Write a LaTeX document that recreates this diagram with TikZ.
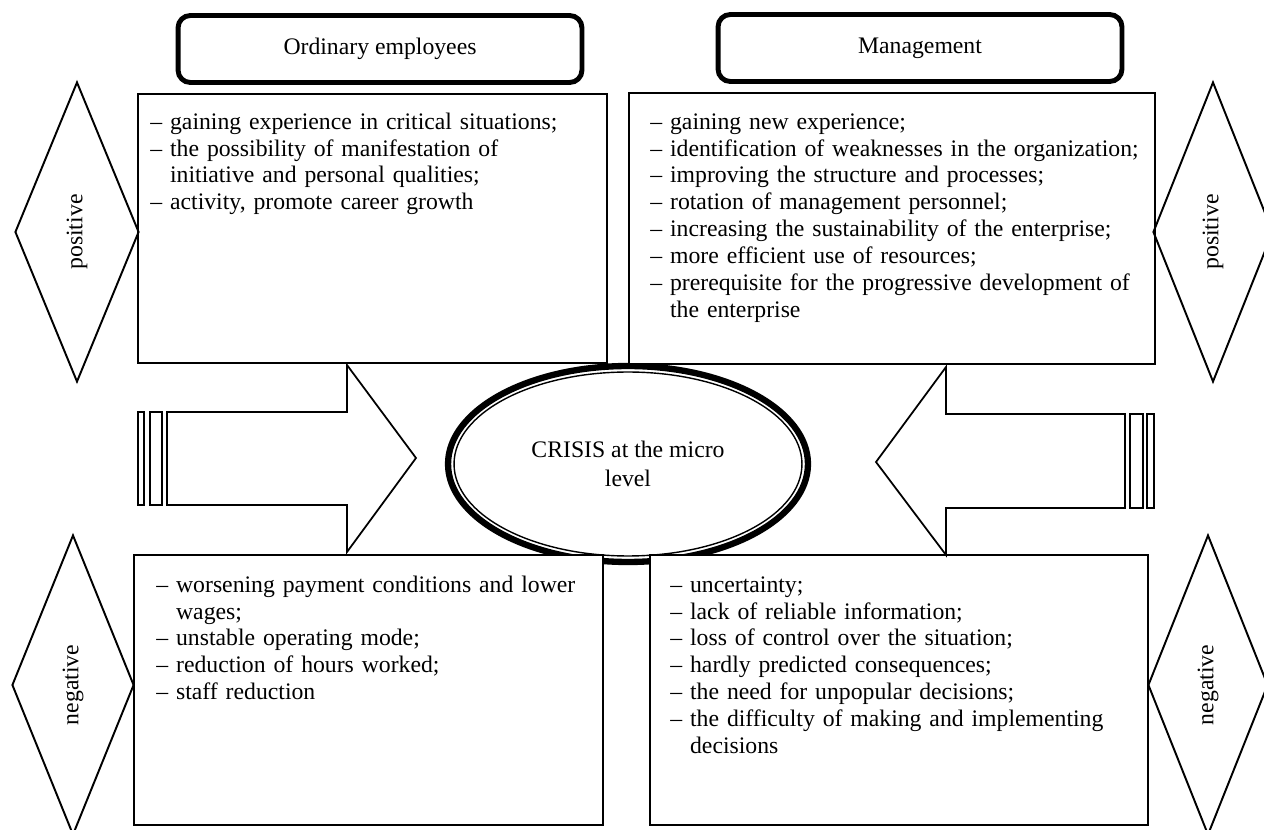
\documentclass[tikz,border=0pt]{standalone}
\usepackage{fontspec}
\setmainfont{Liberation Serif}
\usetikzlibrary{shapes.geometric}

\newsavebox\itmbox
\newcommand{\itm}[1]{\par\sbox\itmbox{–\ }\hangindent=\wd\itmbox\hangafter=1\noindent\usebox\itmbox#1\par}

\begin{document}
\begin{tikzpicture}[x=0.02cm, y=-0.02cm,
  headbox/.style={draw, line width=2.8pt, rounded corners=7pt, minimum width=8.08cm, minimum height=1.34cm, font=\fontsize{13.5}{16}\selectfont},
  listbox/.style={draw, fill=white, line width=0.9pt},
  listtext/.style={anchor=north west, inner sep=0pt, text width=10.5cm, font=\fontsize{13.5}{15.3}\selectfont},
  blockarrow/.style={draw, fill=white, line width=1pt, line join=miter},
  signbox/.style={diamond, draw, line width=1.1pt, rotate=90, inner sep=0pt, minimum width=6cm, font=\fontsize{13.5}{16}\selectfont}]
\useasboundingbox (0,0) rectangle (1264,830);
\node[headbox] (emp) at (380,49) {Ordinary employees};
\node[headbox] (mgt) at (920,48) {Management};
\node[ellipse, draw, line width=3.6pt, fill=white, minimum width=7.2cm, minimum height=3.92cm] (crisis) at (628,464) {};
\node[ellipse, draw, line width=0.8pt, minimum width=6.96cm, minimum height=3.68cm, align=center, font=\fontsize{13.5}{16.4}\selectfont] (core) at (crisis.center) {CRISIS at the micro\\level};
\draw[listbox] (138,94) rectangle (607,363);
\draw[listbox] (629,93) rectangle (1155,364);
\draw[listbox] (134,555) rectangle (603,825);
\draw[listbox] (650,555) rectangle (1148,825);
\draw[blockarrow] (167,412) -- (347,412) -- (347,365) -- (416,458) -- (347,552) -- (347,505) -- (167,505) -- cycle;
\draw[blockarrow] (138,412) rectangle (144,505);
\draw[blockarrow] (150,412) rectangle (162,505);
\draw[blockarrow] (1125,414) -- (946,414) -- (946,367) -- (876,462) -- (946,555) -- (946,508) -- (1125,508) -- cycle;
\draw[blockarrow] (1130,414) rectangle (1143,508);
\draw[blockarrow] (1147,414) rectangle (1154,508);
\node[signbox, minimum height=2.48cm] (pl) at (77,232) {positive};
\node[signbox, minimum height=2.44cm] (nl) at (73,685) {negative};
\node[signbox, minimum height=2.4cm] (pr) at (1213,232) {positive};
\node[signbox, minimum height=2.4cm] (nr) at (1208,685) {negative};
\node[listtext] (e1) at (150,102) {\itm{gaining experience in critical situations;}\itm{the possibility of manifestation of\newline initiative and personal qualities;}\itm{activity, promote career growth}};
\node[listtext] (m1) at (650,102) {\itm{gaining new experience;}\itm{identification of weaknesses in the organization;}\itm{improving the structure and processes;}\itm{rotation of management personnel;}\itm{increasing the sustainability of the enterprise;}\itm{more efficient use of resources;}\itm{prerequisite for the progressive development of\newline the enterprise}};
\node[listtext] (e2) at (156,565) {\itm{worsening payment conditions and lower\newline wages;}\itm{unstable operating mode;}\itm{reduction of hours worked;}\itm{staff reduction}};
\node[listtext] (m2) at (670,565) {\itm{uncertainty;}\itm{lack of reliable information;}\itm{loss of control over the situation;}\itm{hardly predicted consequences;}\itm{the need for unpopular decisions;}\itm{the difficulty of making and implementing\newline decisions}};
\end{tikzpicture}
\end{document}
